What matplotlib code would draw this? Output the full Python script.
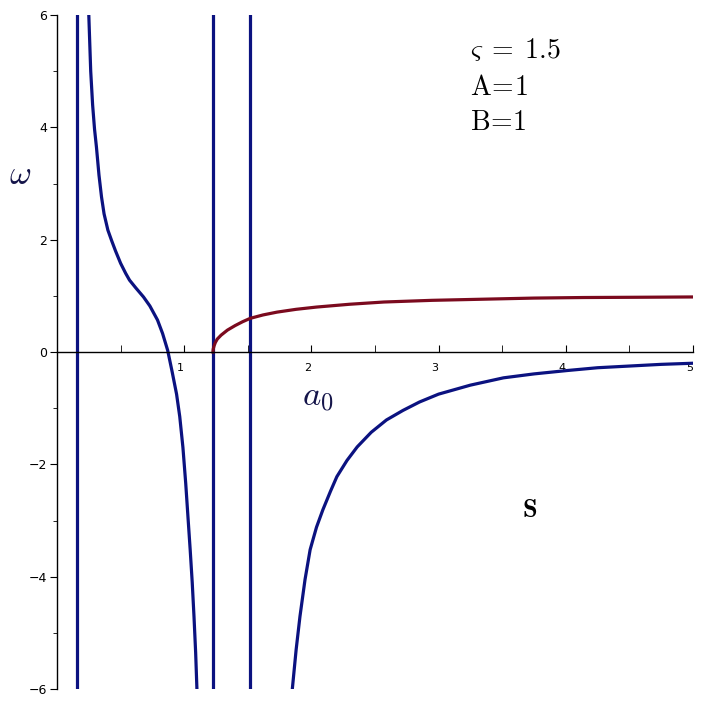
import numpy as np
import matplotlib.pyplot as plt
from matplotlib.ticker import MultipleLocator

plt.rcParams['mathtext.fontset'] = 'cm'

# left blue branch
x_b1 = [0.25, 0.265, 0.28, 0.295, 0.31, 0.33, 0.35, 0.37, 0.40, 0.43, 0.46, 0.50, 0.54, 0.57,
        0.62, 0.68, 0.73, 0.79, 0.83, 0.87, 0.905, 0.94, 0.965, 0.99, 1.012, 1.03, 1.047, 1.063,
        1.077, 1.09, 1.10]
y_b1 = [6.0, 5.0, 4.4, 3.97, 3.65, 3.15, 2.76, 2.46, 2.17, 1.98, 1.80, 1.58, 1.40, 1.28,
        1.14, 0.98, 0.82, 0.57, 0.33, 0.03, -0.35, -0.75, -1.15, -1.70, -2.34, -2.95, -3.52, -4.1,
        -4.71, -5.35, -6.0]

# right blue branch
x_b2 = [1.85, 1.88, 1.91, 1.95, 1.99, 2.04, 2.09, 2.15, 2.20, 2.28, 2.36, 2.47, 2.59, 2.72,
        2.85, 3.0, 3.25, 3.51, 3.75, 4.01, 4.25, 4.50, 4.75, 5.0]
y_b2 = [-6.0, -5.3, -4.71, -4.05, -3.52, -3.12, -2.81, -2.48, -2.22, -1.93, -1.69, -1.43, -1.21, -1.04,
        -0.89, -0.75, -0.59, -0.46, -0.39, -0.33, -0.28, -0.25, -0.22, -0.20]

# red branch
x_r = [1.226, 1.228, 1.235, 1.245, 1.26, 1.29, 1.34, 1.40, 1.46, 1.52, 1.62, 1.73, 1.88, 2.04,
       2.30, 2.57, 2.95, 3.35, 3.75, 4.14, 4.6, 5.0]
y_r = [0.0, 0.05, 0.11, 0.17, 0.23, 0.30, 0.39, 0.47, 0.54, 0.60, 0.66, 0.71, 0.76, 0.80,
       0.85, 0.89, 0.92, 0.94, 0.96, 0.97, 0.975, 0.98]

# vertical asymptote lines
x_vert = [0.157, 1.229, 1.517]

blue = '#0b1280'
red = '#7b0a1e'

fig = plt.figure(figsize=(7.03, 7.03), dpi=100, facecolor='w')
ax = fig.add_axes([57/703, 14/703, 636/703, 674/703])

for xv in x_vert:
    ax.axvline(xv, color=blue, lw=2.3)
ax.plot(x_b1, y_b1, color=blue, lw=2.3)
ax.plot(x_b2, y_b2, color=blue, lw=2.3)
ax.plot(x_r, y_r, color=red, lw=2.3)

ax.set_xlim(0, 5)
ax.set_ylim(-6, 6)

ax.spines['top'].set_visible(False)
ax.spines['right'].set_visible(False)
ax.spines['bottom'].set_position(('data', 0))
ax.spines['left'].set_position(('data', 0))
ax.spines['left'].set_linewidth(1)
ax.spines['bottom'].set_linewidth(1)

ax.set_xticks([1, 2, 3, 4, 5])
ax.set_yticks([-6, -4, -2, 0, 2, 4, 6])
ax.xaxis.set_minor_locator(MultipleLocator(0.5))
ax.yaxis.set_minor_locator(MultipleLocator(1))
ax.tick_params(axis='x', which='both', direction='in', length=5, labelsize=8, pad=8)
ax.tick_params(axis='y', which='major', direction='out', length=5, labelsize=9, pad=2)
ax.tick_params(axis='y', which='minor', direction='out', length=3)
ax.set_yticklabels(['\u22126', '\u22124', '\u22122', '0', '2', '4', '6'])
ax.set_xticklabels(['1', '2', '3', '4', '5'])
for lab in ax.get_xticklabels():
    lab.set_horizontalalignment('right')

fig.text(20/703, 1 - 175/703, r'$\omega$', fontsize=24, color='#15154a', ha='center', va='center')
fig.text(318/703, 1 - 397/703, r'$a_0$', fontsize=25, color='#15154a', ha='center', va='center')

fig.text(470/703, 1 - 50/703, r'$\varsigma\;=\;1.5$', fontsize=20, ha='left', va='center')
fig.text(470/703, 1 - 87/703, r'$\mathrm{A\!=\!1}$', fontsize=20, ha='left', va='center')
fig.text(470/703, 1 - 122/703, r'$\mathrm{B\!=\!1}$', fontsize=20, ha='left', va='center')
fig.text(530/703, 1 - 510/703, r'$\mathbf{S}$', fontsize=19, ha='center', va='center')

fig.savefig('out.png', dpi=100, facecolor='w')
